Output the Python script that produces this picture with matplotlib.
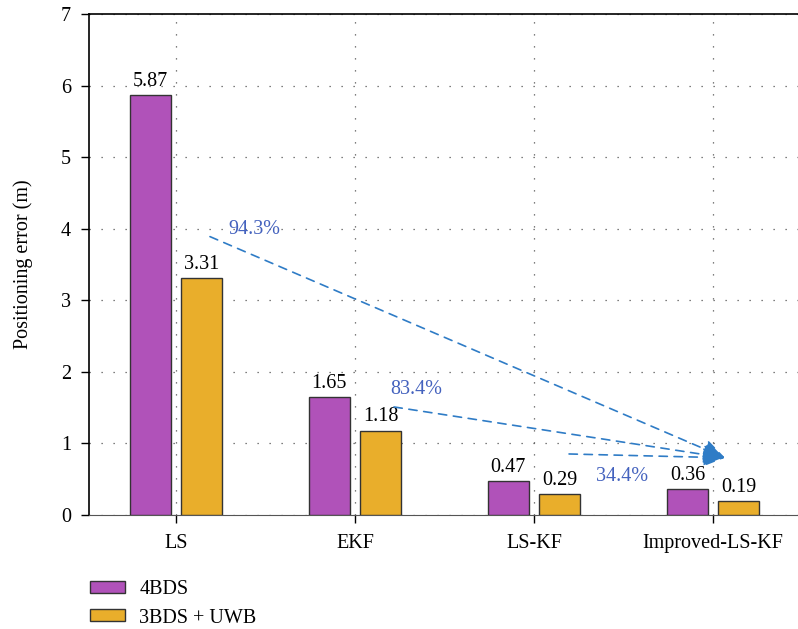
import numpy as np
import matplotlib
matplotlib.use('Agg')
import matplotlib.pyplot as plt

# 各方法定位误差（单位：m）
methods = ['LS', 'EKF', 'LS-KF', 'Improved-LS-KF']
err_4bds = [5.87, 1.65, 0.47, 0.36]
err_3bds_uwb = [3.31, 1.18, 0.29, 0.19]
series_names = ['4BDS', '3BDS + UWB']

# 误差下降百分比标注
pct_labels = ['94.3%', '83.4%', '34.4%']

plt.rcParams['font.family'] = ['Liberation Serif', 'DejaVu Serif']
plt.rcParams['font.size'] = 14.5

c_purple = '#B052B9'
c_orange = '#E9AE2B'
c_arrow = '#2F7CC6'
c_pct = '#4462BE'

fig = plt.figure(figsize=(7.98, 6.29), dpi=100)
ax = fig.add_axes([0.1115, 0.1812, 0.8885, 0.7965])

x = np.arange(len(methods))
w = 0.23
off = 0.143
b1 = ax.bar(x - off, err_4bds, w, color=c_purple, edgecolor='#333333',
            linewidth=1.0, label=series_names[0], zorder=3)
b2 = ax.bar(x + off, err_3bds_uwb, w, color=c_orange, edgecolor='#333333',
            linewidth=1.0, label=series_names[1], zorder=3)

# 柱顶数值
for bars, vals in [(b1, err_4bds), (b2, err_3bds_uwb)]:
    for rect, v in zip(bars, vals):
        ax.annotate(f'{v:.2f}', (rect.get_x() + rect.get_width() / 2, v),
                    xytext=(0, 3), textcoords='offset points',
                    ha='center', va='bottom', zorder=4)

ax.set_xlim(-0.486, 3.475)
ax.set_ylim(0, 7)
ax.set_xticks(x)
ax.set_xticklabels(methods)
ax.set_yticks(range(8))
ax.set_ylabel('Positioning error (m)', labelpad=20)

ax.grid(True, linestyle=(0, (1, 8.6)), color='#555555', linewidth=0.9, zorder=0)
ax.spines['right'].set_visible(False)
ax.spines['bottom'].set_color('#555555')
for s in ['left', 'top']:
    ax.spines[s].set_linewidth(1.2)
ax.tick_params(axis='both', direction='out', length=6, width=1.0, pad=7)
ax.tick_params(axis='x', pad=8)

# 改进方法相对各方法的误差下降箭头
tip = (3.067, 0.80)
starts = [(0.19, 3.89), (1.218, 1.51), (2.196, 0.853)]
for sx, sy in starts:
    ax.annotate('', xy=tip, xytext=(sx, sy),
                arrowprops=dict(arrowstyle='-|>,head_length=0.95,head_width=0.4',
                                linestyle=(0, (5, 4)), color=c_arrow, lw=1.2,
                                shrinkA=0, shrinkB=0),
                zorder=5)

pct_pos = [(0.44, 3.99), (1.34, 1.76), (2.49, 0.545)]
for (px, py), t in zip(pct_pos, pct_labels):
    ax.text(px, py, t, color=c_pct, ha='center', va='center', zorder=5)

fig.legend(handles=[b1, b2], labels=series_names, loc='upper left',
           bbox_to_anchor=(0.09, 0.106), frameon=False,
           handlelength=1.75, handleheight=0.55, handletextpad=0.7,
           labelspacing=0.45)

fig.savefig('out.png', dpi=100)
